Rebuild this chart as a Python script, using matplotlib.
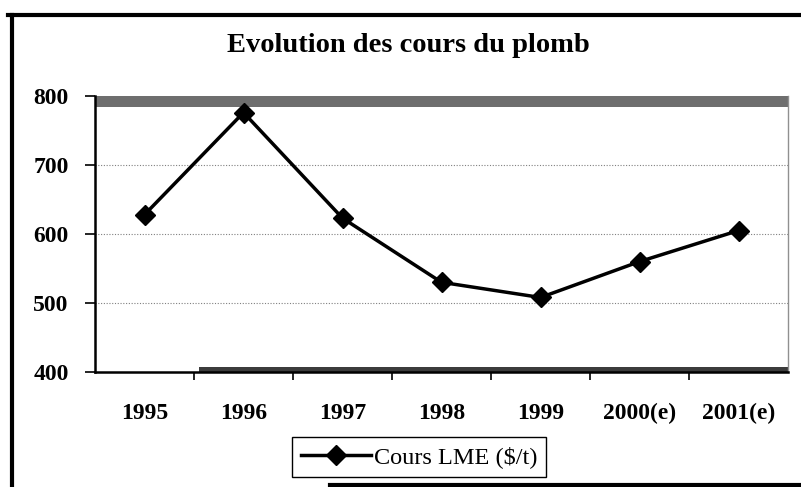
import matplotlib
matplotlib.use("Agg")
import matplotlib.pyplot as plt
from matplotlib.lines import Line2D

# === Données : cours LME du plomb ===
annees = ["1995", "1996", "1997", "1998", "1999", "2000(e)", "2001(e)"]
cours = [628, 776, 623, 530, 508, 560, 605]
yticks = [400, 500, 600, 700, 800]

W, H = 801, 487
plt.rcParams["font.family"] = ["Liberation Serif", "DejaVu Serif"]

fig = plt.figure(figsize=(W / 100, H / 100), dpi=100)
ax = fig.add_axes([95 / W, 1 - 372 / H, 693 / W, 276 / H])

x = list(range(len(annees)))

# bandes sombres (haut et bas de la zone de tracé)
ax.axhspan(784, 800, color="#6e6e6e", zorder=0, lw=0)
ax.axhspan(400, 407, xmin=0.15, xmax=1, color="#3c3c3c", zorder=0, lw=0)

for v in yticks[1:-1]:
    ax.axhline(v, color="#808080", lw=0.8, ls=(0, (1, 1.5)), zorder=1)

ax.plot(x, cours, color="black", lw=2.5, marker="D", markersize=10,
        label="Cours LME ($/t)", zorder=3)

ax.set_xlim(-0.5, len(annees) - 0.5)
ax.set_ylim(400, 800)
ax.set_yticks(yticks)
ax.set_xticks(x)
ax.set_xticklabels(annees)
ax.set_xticks([i + 0.5 for i in x[:-1]], minor=True)

ax.tick_params(axis="x", which="major", length=0, pad=22, labelsize=17)
ax.tick_params(axis="x", which="minor", length=6, width=1.2, direction="out")
ax.tick_params(axis="y", length=7, width=1.2, pad=12, labelsize=17)
for lbl in ax.get_xticklabels() + ax.get_yticklabels():
    lbl.set_fontweight("bold")

ax.spines["left"].set_linewidth(1.8)
ax.spines["bottom"].set_linewidth(1.8)
ax.spines["top"].set_visible(False)
ax.spines["right"].set_color("#909090")
ax.spines["right"].set_linewidth(1.0)

fig.text(408 / W, 1 - 46 / H, "Evolution des cours du plomb",
         ha="center", va="center", fontsize=20.5, fontweight="bold")

leg = fig.legend(loc="center", bbox_to_anchor=(419 / W, 1 - 457 / H),
                 fontsize=17.5, handlelength=2.9, fancybox=False,
                 edgecolor="black", framealpha=1, borderpad=0.35,
                 handletextpad=0.1)
leg.get_frame().set_linewidth(1.0)

# cadre extérieur
fig.add_artist(Line2D([8 / W, 1], [1 - 15 / H] * 2, color="black", lw=3))
fig.add_artist(Line2D([12 / W] * 2, [1 - 15 / H, 0], color="black", lw=3))
fig.add_artist(Line2D([330 / W, 1], [1 - 485 / H] * 2, color="black", lw=3))

fig.savefig("out.png", dpi=100)
